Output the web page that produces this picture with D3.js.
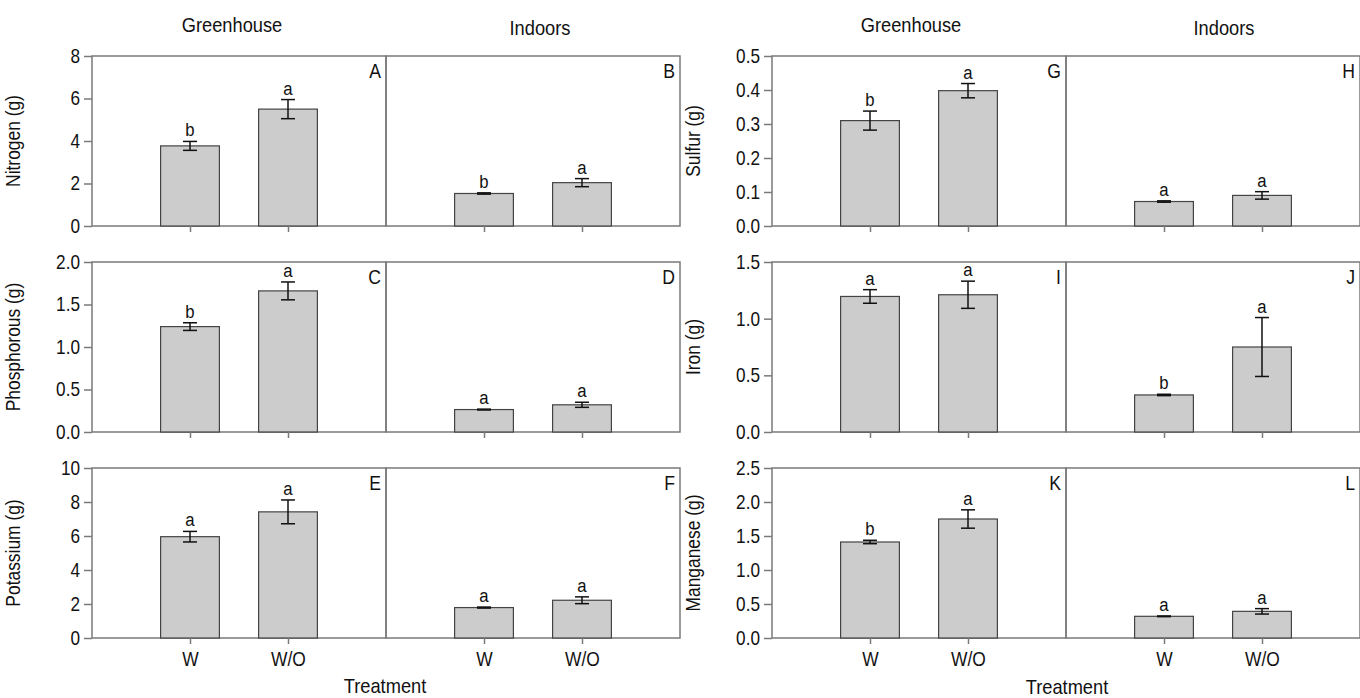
<!DOCTYPE html>
<html>
  <head>
    <meta charset="UTF-8">
    <script src="https://d3js.org/d3.v7.min.js"></script>
    <style>
      body {
        margin: 0;
        background: #fff;
      }
      svg text {
        fill: #111;
        font-family: "Liberation Sans", Arial, sans-serif;
      }
    </style>
  </head>
  <body>
    <svg width="1360" height="698"></svg>
    <script>
      // values
      const treatments = ["W", "W/O"];
      const elements = ["Nitrogen", "Phosphorous", "Potassium", "Sulfur", "Iron", "Manganese"];
      const yMax = [8, 2, 10, 0.5, 1.5, 2.5];
      const yStep = [2, 0.5, 2, 0.1, 0.5, 0.5];
      const yFormat = ["d", ".1f", "d", ".1f", ".1f", ".1f"];

      const greenhouseLetters = ["A", "C", "E", "G", "I", "K"];
      const indoorsLetters = ["B", "D", "F", "H", "J", "L"];

      const greenhouseMean = [[3.77, 5.50], [1.24, 1.66], [5.96, 7.42], [0.310, 0.398], [1.196, 1.211], [1.412, 1.750]];
      const greenhouseErr = [[0.21, 0.45], [0.045, 0.105], [0.31, 0.70], [0.028, 0.021], [0.06, 0.12], [0.025, 0.135]];
      const greenhouseSig = [["b", "a"], ["b", "a"], ["a", "a"], ["b", "a"], ["a", "a"], ["b", "a"]];

      const indoorsMean = [[1.53, 2.04], [0.264, 0.32], [1.79, 2.22], [0.072, 0.090], [0.327, 0.750], [0.319, 0.392]];
      const indoorsErr = [[0.03, 0.19], [0.005, 0.03], [0.03, 0.2], [0.002, 0.011], [0.006, 0.26], [0.005, 0.04]];
      const indoorsSig = [["b", "a"], ["a", "a"], ["a", "a"], ["a", "a"], ["b", "a"], ["a", "a"]];

      const svg = d3.select("svg");

      const groupLeft = [92, 772];
      const panelW = 294;
      const rowTop = [56, 262, 468];
      const panelH = 170;
      const frameColor = "#7a7a7a";

      const x = d3.scaleLinear().domain([0, 3]).range([0, panelW]);
      const barW = x(0.6) - x(0);

      // the figure uses a condensed face; squeeze text horizontally
      function narrow(sel, s) {
        sel.each(function () {
          const t = d3.select(this);
          const x0 = +t.attr("x") || 0;
          t.attr("x", x0 / s).attr("transform", `scale(${s},1)`);
        });
      }

      function drawPanel(g, means, errs, sigs, letter, y) {
        // frame
        g.append("rect")
          .attr("x", 0).attr("y", 0)
          .attr("width", panelW).attr("height", panelH)
          .attr("fill", "none")
          .attr("stroke", frameColor)
          .attr("stroke-width", 1.5);

        const bars = treatments.map((t, i) => ({ t: t, i: i, v: means[i], e: errs[i], s: sigs[i] }));

        g.selectAll("rect.bar")
          .data(bars)
          .join("rect")
          .attr("class", "bar")
          .attr("x", (d) => x(d.i + 1) - barW / 2)
          .attr("y", (d) => y(d.v))
          .attr("width", barW)
          .attr("height", (d) => y(0) - y(d.v))
          .attr("fill", "#cccccc")
          .attr("stroke", "#444")
          .attr("stroke-width", 1.2);

        // error bars
        const eb = g.selectAll("g.err")
          .data(bars)
          .join("g")
          .attr("class", "err")
          .attr("stroke", "#111")
          .attr("stroke-width", 1.5);
        eb.append("line")
          .attr("x1", (d) => x(d.i + 1)).attr("x2", (d) => x(d.i + 1))
          .attr("y1", (d) => y(d.v - d.e)).attr("y2", (d) => y(d.v + d.e));
        eb.append("line")
          .attr("x1", (d) => x(d.i + 1) - 7).attr("x2", (d) => x(d.i + 1) + 7)
          .attr("y1", (d) => y(d.v + d.e)).attr("y2", (d) => y(d.v + d.e));
        eb.append("line")
          .attr("x1", (d) => x(d.i + 1) - 7).attr("x2", (d) => x(d.i + 1) + 7)
          .attr("y1", (d) => y(d.v - d.e)).attr("y2", (d) => y(d.v - d.e));

        g.selectAll("text.sig")
          .data(bars)
          .join("text")
          .attr("class", "sig")
          .attr("x", (d) => x(d.i + 1))
          .attr("y", (d) => y(d.v + d.e) - 5)
          .attr("text-anchor", "middle")
          .style("font-size", "19px")
          .text((d) => d.s)
          .call(narrow, 0.88);

        g.append("text")
          .attr("x", panelW - 5)
          .attr("y", 22)
          .attr("text-anchor", "end")
          .style("font-size", "20px")
          .text(letter)
          .call(narrow, 0.88);

        // x ticks
        const xa = g.append("g")
          .attr("transform", `translate(0,${panelH})`)
          .call(d3.axisBottom(x).tickValues([1, 2]).tickSize(6).tickFormat(""));
        xa.select(".domain").remove();
        xa.selectAll("line").attr("stroke", frameColor).attr("stroke-width", 1.5);
        return xa;
      }

      for (let c = 0; c < 2; c++) {
        for (let r = 0; r < 3; r++) {
          const k = c * 3 + r;
          const y = d3.scaleLinear().domain([0, yMax[k]]).range([panelH, 0]);
          const base = svg.append("g")
            .attr("transform", `translate(${groupLeft[c]},${rowTop[r]})`);

          const ticks = d3.range(0, yMax[k] + yStep[k] / 2, yStep[k]);
          const ya = base.append("g")
            .call(d3.axisLeft(y).tickValues(ticks).tickSize(8).tickPadding(4).tickFormat(d3.format(yFormat[k])));
          ya.select(".domain").remove();
          ya.selectAll("line").attr("stroke", frameColor).attr("stroke-width", 1.5);
          ya.attr("font-family", null);
          ya.selectAll("text")
            .style("font-size", "20px")
            .attr("fill", "#111")
            .call(narrow, 0.86);

          base.append("text")
            .attr("transform", `translate(${-72},${panelH / 2}) rotate(-90) scale(0.87,1)`)
            .attr("text-anchor", "middle")
            .style("font-size", "20px")
            .text(`${elements[k]} (g)`);

          const gh = base.append("g");
          const xa1 = drawPanel(gh, greenhouseMean[k], greenhouseErr[k], greenhouseSig[k], greenhouseLetters[k], y);
          const ind = base.append("g").attr("transform", `translate(${panelW},0)`);
          const xa2 = drawPanel(ind, indoorsMean[k], indoorsErr[k], indoorsSig[k], indoorsLetters[k], y);

          if (r === 2) {
            [xa1, xa2].forEach((xa) => {
              xa.attr("font-family", null);
              xa.selectAll(".tick text")
                .data([1, 2])
                .text((d) => treatments[d - 1])
                .attr("dy", null)
                .attr("y", 28)
                .style("font-size", "20px")
                .attr("fill", "#111")
                .call(narrow, 0.87);
            });
          }
        }
      }

      // column titles and x titles
      const titles = [
        { t: "Greenhouse", x: 232, y: 32 },
        { t: "Indoors", x: 540, y: 35 },
        { t: "Greenhouse", x: 911, y: 32 },
        { t: "Indoors", x: 1224, y: 35 },
        { t: "Treatment", x: 385, y: 693 },
        { t: "Treatment", x: 1067, y: 694 }
      ];
      svg.selectAll("text.title")
        .data(titles)
        .join("text")
        .attr("class", "title")
        .attr("x", (d) => d.x)
        .attr("y", (d) => d.y)
        .attr("text-anchor", "middle")
        .style("font-size", "21px")
        .text((d) => d.t)
        .call(narrow, 0.87);
    </script>
  </body>
</html>
